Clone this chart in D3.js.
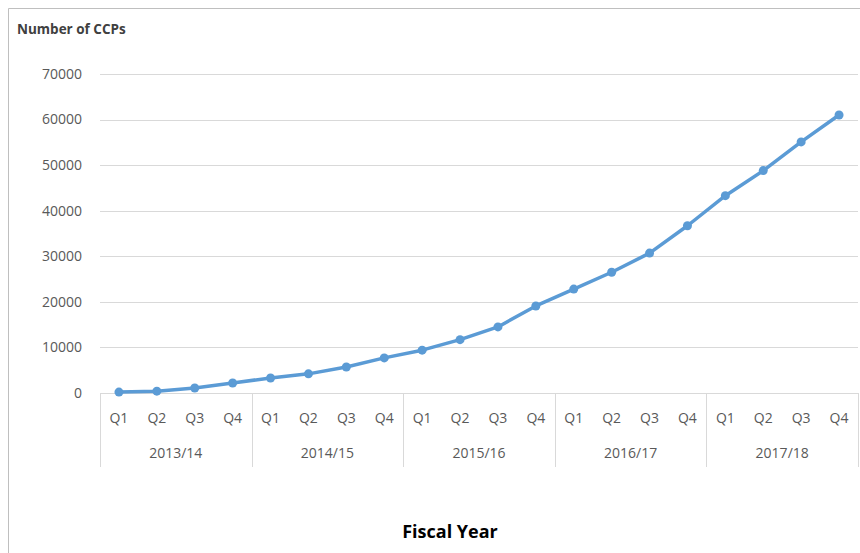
<!DOCTYPE html>
<meta charset="utf-8">
<style>
  body { margin: 0; background: #fff; }
  svg { display: block; font-family: "Open Sans", "Liberation Sans", sans-serif; }
  .grid line { stroke: #d9d9d9; stroke-width: 1; }
  .ylab { fill: #595959; font-size: 14px; }
  .qlab { fill: #595959; font-size: 14px; }
</style>
<body>
<script src="https://d3js.org/d3.v7.min.js"></script>
<script>
const years = ['2013/14', '2014/15', '2015/16', '2016/17', '2017/18'];
const quarters = ['Q1', 'Q2', 'Q3', 'Q4'];
const ccps = [200, 400, 1100, 2200, 3300, 4200, 5700, 7700, 9400, 11700,
              14500, 19100, 22800, 26500, 30700, 36700, 43300, 48800, 55100, 61000];
const yTicks = [0, 10000, 20000, 30000, 40000, 50000, 60000, 70000];

const width = 860, height = 553;
const left = 100, right = 858, top0 = 74, bottom = 393;

const svg = d3.select('body').append('svg')
  .attr('width', width)
  .attr('height', height);

// chart frame
svg.append('path')
  .attr('d', `M8.5,${height} V8.5 H${width}`)
  .attr('fill', 'none')
  .attr('stroke', '#bfbfbf');

const keys = d3.range(ccps.length);
const x = d3.scaleBand().domain(keys).range([left, right]);
const xYear = d3.scaleBand().domain(years).range([left, right]);
const y = d3.scaleLinear().domain([0, 70000]).range([bottom, top0]);

// gridlines + y labels
const g = svg.append('g').attr('class', 'grid');
g.selectAll('line').data(yTicks).enter().append('line')
  .attr('x1', left).attr('x2', right)
  .attr('y1', d => Math.round(y(d)) + 0.5)
  .attr('y2', d => Math.round(y(d)) + 0.5);

svg.selectAll('.ylab').data(yTicks).enter().append('text')
  .attr('class', 'ylab')
  .attr('x', 82)
  .attr('y', d => y(d))
  .attr('dy', '0.35em')
  .attr('text-anchor', 'end')
  .text(d => d);

// category axis separators
const seps = years.map(d => xYear(d)).concat([right]);
svg.selectAll('.sep').data(seps).enter().append('line')
  .attr('stroke', '#d9d9d9')
  .attr('x1', d => Math.round(d) + 0.5).attr('x2', d => Math.round(d) + 0.5)
  .attr('y1', bottom).attr('y2', 467);

svg.selectAll('.qlab').data(keys).enter().append('text')
  .attr('class', 'qlab')
  .attr('x', d => x(d) + x.bandwidth() / 2)
  .attr('y', 423)
  .attr('text-anchor', 'middle')
  .text(d => quarters[d % 4]);

svg.selectAll('.yrlab').data(years).enter().append('text')
  .attr('class', 'qlab')
  .attr('x', d => xYear(d) + xYear.bandwidth() / 2)
  .attr('y', 458)
  .attr('text-anchor', 'middle')
  .text(d => d);

// line + markers
const line = d3.line()
  .x((d, i) => x(i) + x.bandwidth() / 2)
  .y(d => y(d));

svg.append('path')
  .datum(ccps)
  .attr('d', line)
  .attr('fill', 'none')
  .attr('stroke', '#5b9bd5')
  .attr('stroke-width', 3.5)
  .attr('stroke-linejoin', 'round');

svg.selectAll('.dot').data(ccps).enter().append('circle')
  .attr('cx', (d, i) => x(i) + x.bandwidth() / 2)
  .attr('cy', d => y(d))
  .attr('r', 4.5)
  .attr('fill', '#5b9bd5');

// titles
svg.append('text')
  .attr('x', 17).attr('y', 34)
  .attr('font-size', 13.5)
  .attr('font-weight', 'bold')
  .attr('fill', '#404040')
  .text('Number of CCPs');

svg.append('text')
  .attr('x', 450).attr('y', 538)
  .attr('text-anchor', 'middle')
  .attr('font-size', 18)
  .attr('font-weight', 'bold')
  .attr('fill', '#000')
  .text('Fiscal Year');
</script>
</body>
